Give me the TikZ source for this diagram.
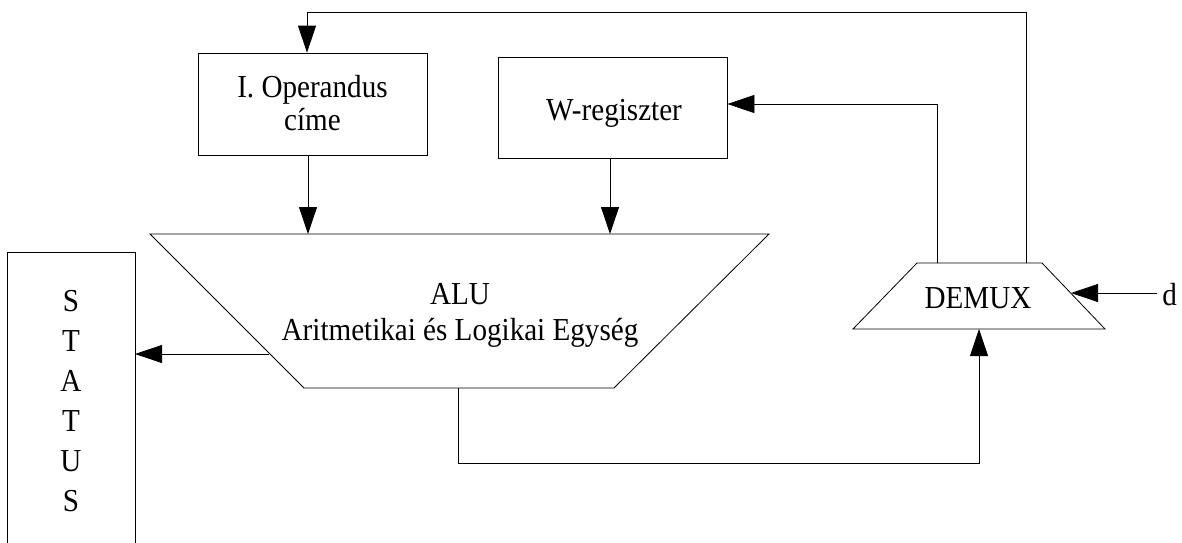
\documentclass[tikz,border=0pt]{standalone}
\usepackage{fontspec}
\setmainfont{Liberation Serif}[FakeStretch=0.91]
\usetikzlibrary{arrows.meta}
\begin{document}
\begin{tikzpicture}[x=1pt,y=-1pt,
  line width=0.8pt,
  font=\fontsize{32}{36}\selectfont,
  arr/.style={-{Triangle[length=27pt,width=18pt]}},
  box/.style={draw,inner sep=0pt},
  lbl/.style={inner sep=0pt,align=center,anchor=base}]
\useasboundingbox (0,0) rectangle (1182,542);
\clip (0,0) rectangle (1182,542);
\fill[white] (0,0) rectangle (1182,542);
% boxes
\node[box,minimum width=229pt,minimum height=102pt] (opnd) at (312.5,104) {};
\node[lbl,font=\fontsize{32}{33}\selectfont] (opndT) at (312.5,130) {I. Operandus\\címe};
\node[box,minimum width=229pt,minimum height=101pt] (wreg) at (612.5,107.5) {};
\node[lbl] (wregT) at (614,120) {W-regiszter};
% ALU trapezoid
\coordinate (aluTL) at (150,234);
\coordinate (aluTR) at (769,234);
\coordinate (aluBR) at (614,388);
\coordinate (aluBL) at (304,388);
\draw (aluTL) -- (aluTR) -- (aluBR) -- (aluBL) -- cycle;
\node[lbl] (alu) at (460,340) {ALU\\Aritmetikai és Logikai Egység};
% DEMUX trapezoid
\coordinate (dTL) at (917,263);
\coordinate (dTR) at (1042,263);
\coordinate (dBR) at (1105,329);
\coordinate (dBL) at (853,329);
\draw (dTL) -- (dTR) -- (dBR) -- (dBL) -- cycle;
\node[lbl] (demux) at (978,308.5) {DEMUX};
% STATUS box
\draw (7,560) -- (7,252) -- (135,252) -- (135,560);
\node[lbl,font=\fontsize{32}{40}\selectfont] (status) at (71,511) {S\\T\\A\\T\\U\\S};
\coordinate (statusR) at (135,354);
% d input
\node[lbl,anchor=base west] (d) at (1162,305) {d};
% connectors
\coordinate (aluL) at (269,354);
\draw[arr] (aluL) -- (statusR);
\draw[arr] (opnd.south -| 308,0) -- (308,234);
\draw[arr] (wreg.south -| 610,0) -- (610,234);
\draw[arr] (1026,263) -- (1026,12) -- (307,12) -- (opnd.north -| 307,0);
\draw[arr] (937,263) -- (937,104) -- (wreg.east |- 0,104);
\draw[arr] (458,388) -- (458,463) -- (979,463) -- (979,329);
\draw[arr] (1157,293) -- (1071,293);
\end{tikzpicture}
\end{document}
